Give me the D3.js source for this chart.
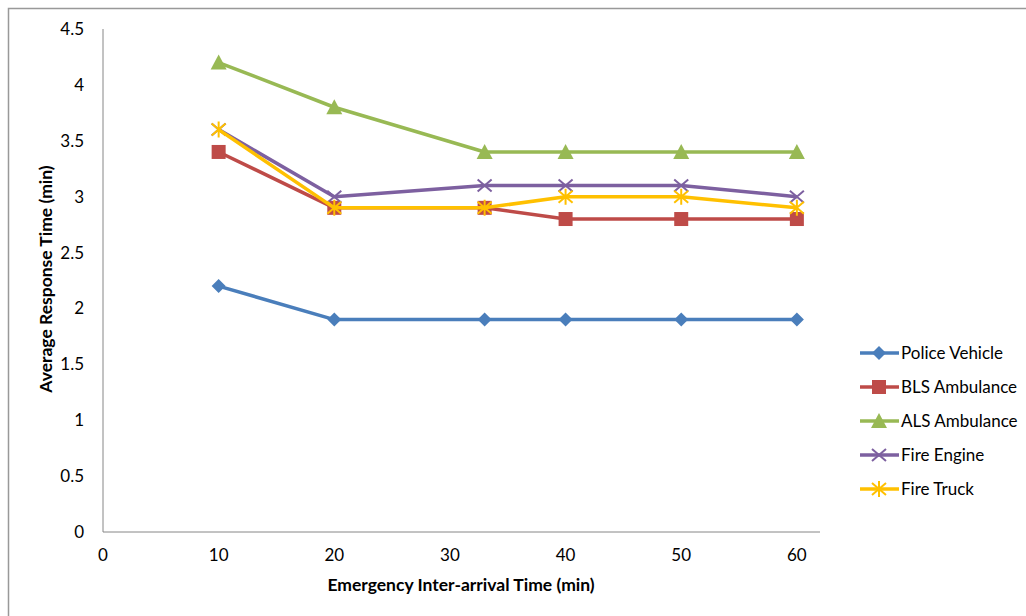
<!DOCTYPE html>
<html>
<head>
<meta charset="utf-8">
<script src="https://cdn.jsdelivr.net/npm/d3@7"></script>
<style>
  body { margin: 0; background: #fff; }
  text { font-family: Lato, "Open Sans", sans-serif; fill: #000; }
</style>
</head>
<body>
<svg width="1026" height="616"></svg>
<script>
// chart data
const xValues = [10, 20, 33, 40, 50, 60];
const police = [2.2, 1.9, 1.9, 1.9, 1.9, 1.9];
const bls = [3.4, 2.9, 2.9, 2.8, 2.8, 2.8];
const als = [4.2, 3.8, 3.4, 3.4, 3.4, 3.4];
const fireEngine = [3.6, 3.0, 3.1, 3.1, 3.1, 3.0];
const fireTruck = [3.6, 2.9, 2.9, 3.0, 3.0, 2.9];
const seriesNames = ['Police Vehicle', 'BLS Ambulance', 'ALS Ambulance', 'Fire Engine', 'Fire Truck'];
const xTicks = [0, 10, 20, 30, 40, 50, 60];
const yTicks = [0, 0.5, 1, 1.5, 2, 2.5, 3, 3.5, 4, 4.5];

const series = [
    { name: seriesNames[0], values: police, color: '#4A7EBB', marker: 'diamond' },
    { name: seriesNames[1], values: bls, color: '#BE4B48', marker: 'square' },
    { name: seriesNames[2], values: als, color: '#98B954', marker: 'triangle' },
    { name: seriesNames[3], values: fireEngine, color: '#7D60A0', marker: 'cross' },
    { name: seriesNames[4], values: fireTruck, color: '#FFC000', marker: 'star' }
];

const svg = d3.select('svg');

// outer frame
svg.append('rect')
    .attr('x', 8.5).attr('y', 8.5)
    .attr('width', 1030).attr('height', 620)
    .attr('fill', 'none')
    .attr('stroke', '#999')
    .attr('stroke-width', 1.5);

const x = d3.scaleLinear().domain([0, 62]).range([103, 820]);
const y = d3.scaleLinear().domain([0, 4.5]).range([532, 29]);

// axes lines (no tick marks)
const g = svg.append('g');
g.append('line')
    .attr('x1', x(0)).attr('x2', x(0))
    .attr('y1', y(0)).attr('y2', y(4.5))
    .attr('stroke', '#868686');
g.append('line')
    .attr('x1', x(0)).attr('x2', x(62))
    .attr('y1', y(0)).attr('y2', y(0))
    .attr('stroke', '#868686');

// tick labels
g.selectAll('.ytick')
    .data(yTicks)
    .enter().append('text')
    .attr('x', 84)
    .attr('y', d => y(d))
    .attr('dy', '0.35em')
    .attr('text-anchor', 'end')
    .attr('font-size', 17)
    .text(d => d);

g.selectAll('.xtick')
    .data(xTicks)
    .enter().append('text')
    .attr('x', d => x(d))
    .attr('y', 561)
    .attr('text-anchor', 'middle')
    .attr('font-size', 17)
    .text(d => d);

// axis titles
svg.append('text')
    .attr('transform', 'translate(52,279) rotate(-90)')
    .attr('text-anchor', 'middle')
    .attr('font-size', 17.5)
    .attr('font-weight', 'bold')
    .text('Average Response Time (min)');

svg.append('text')
    .attr('x', 461)
    .attr('y', 591)
    .attr('text-anchor', 'middle')
    .attr('font-size', 17.5)
    .attr('font-weight', 'bold')
    .text('Emergency Inter-arrival Time (min)');

// marker drawing
function drawMarker(sel, type, color) {
    if (type === 'diamond') {
        sel.append('path').attr('d', 'M0,-7L7,0L0,7L-7,0Z').attr('fill', color);
    } else if (type === 'square') {
        sel.append('rect').attr('x', -7).attr('y', -7).attr('width', 14).attr('height', 14).attr('fill', color);
    } else if (type === 'triangle') {
        sel.append('path').attr('d', 'M0,-8L8,7L-8,7Z').attr('fill', color);
    } else if (type === 'cross') {
        sel.append('path').attr('d', 'M-7,-6L7,6M-7,6L7,-6')
            .attr('stroke', color).attr('stroke-width', 2).attr('fill', 'none');
    } else if (type === 'star') {
        sel.append('path').attr('d', 'M-7,-6L7,6M-7,6L7,-6M0,-8L0,8')
            .attr('stroke', color).attr('stroke-width', 2).attr('fill', 'none');
    }
}

const line = d3.line()
    .x((d, i) => x(xValues[i]))
    .y(d => y(d));

series.forEach(s => {
    svg.append('path')
        .datum(s.values)
        .attr('d', line)
        .attr('fill', 'none')
        .attr('stroke', s.color)
        .attr('stroke-width', 3.5)
        .attr('stroke-linejoin', 'round');

    svg.selectAll(null)
        .data(s.values)
        .enter().append('g')
        .attr('transform', (d, i) => `translate(${x(xValues[i])},${y(d)})`)
        .each(function () { drawMarker(d3.select(this), s.marker, s.color); });
});

// legend
const legend = svg.append('g');
series.forEach((s, i) => {
    const ly = 353 + i * 34;
    legend.append('line')
        .attr('x1', 860).attr('x2', 899)
        .attr('y1', ly).attr('y2', ly)
        .attr('stroke', s.color)
        .attr('stroke-width', 3.5);
    const m = legend.append('g').attr('transform', `translate(879,${ly})`);
    drawMarker(m, s.marker, s.color);
    legend.append('text')
        .attr('x', 901)
        .attr('y', ly)
        .attr('dy', '0.35em')
        .attr('font-size', 17)
        .text(s.name);
});
</script>
</body>
</html>
